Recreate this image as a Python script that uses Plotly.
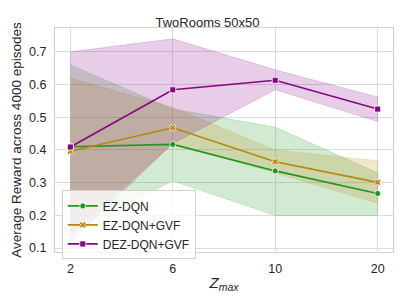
import plotly.graph_objects as go

z_labels = ["2", "6", "10", "20"]
x_idx = [0, 1, 2, 3]

ez_dqn = [0.41, 0.417, 0.336, 0.267]
ez_dqn_hi = [0.66, 0.525, 0.47, 0.33]
ez_dqn_lo = [0.15, 0.305, 0.20, 0.20]

ez_gvf = [0.396, 0.468, 0.364, 0.301]
ez_gvf_hi = [0.62, 0.53, 0.40, 0.367]
ez_gvf_lo = [0.14, 0.42, 0.33, 0.237]

dez_gvf = [0.409, 0.584, 0.613, 0.525]
dez_gvf_hi = [0.70, 0.74, 0.645, 0.562]
dez_gvf_lo = [0.12, 0.42, 0.584, 0.487]

series = [
    ("EZ-DQN", ez_dqn, ez_dqn_hi, ez_dqn_lo, "#1f961f", "rgba(31,150,31,0.2)", "circle"),
    ("EZ-DQN+GVF", ez_gvf, ez_gvf_hi, ez_gvf_lo, "#b8860b", "rgba(184,134,11,0.2)", "x"),
    ("DEZ-DQN+GVF", dez_gvf, dez_gvf_hi, dez_gvf_lo, "#850585", "rgba(133,5,133,0.2)", "square"),
]

fig = go.Figure()
for name, y, hi, lo, col, fcol, sym in series:
    fig.add_trace(go.Scatter(
        x=x_idx + x_idx[::-1], y=hi + lo[::-1], mode="lines", fill="toself",
        fillcolor=fcol, line=dict(color=fcol, width=0.8),
        showlegend=False, hoverinfo="skip"))
for name, y, hi, lo, col, fcol, sym in series:
    fig.add_trace(go.Scatter(
        x=x_idx, y=y, mode="lines+markers", name=name,
        line=dict(color=col, width=1.6),
        marker=dict(symbol=sym, size=6, color=col, line=dict(color="white", width=0.8))))

# page body has an 8px default margin, so the figure is sized/offset to compensate
fig.update_layout(
    width=399, height=297,
    margin=dict(l=47, r=14, t=20, b=53),
    paper_bgcolor="white", plot_bgcolor="white",
    font=dict(family="Liberation Sans, Arial, sans-serif", size=12, color="#262626"),
    title=dict(text="TwoRooms 50x50", x=0.5, xanchor="center", y=0.95, yanchor="middle",
               font=dict(size=13, color="#262626")),
    legend=dict(x=0.02, y=0.275, xanchor="left", yanchor="top",
                bgcolor="rgba(255,255,255,0.8)", bordercolor="#d0d0d0", borderwidth=1,
                font=dict(size=12), itemwidth=30, tracegroupgap=0),
    xaxis=dict(tickmode="array", tickvals=x_idx, ticktext=z_labels, range=[-0.15, 3.15],
               showgrid=True, gridcolor="#dcdcdc", gridwidth=1, zeroline=False,
               showline=True, linecolor="#d0d0d0", mirror=True,
               ticks="outside", ticklen=5, tickcolor="rgba(0,0,0,0)", automargin=False,
               tickfont=dict(size=12.5),
               title=dict(text="<i>Z<sub>max</sub></i>", font=dict(size=15), standoff=2)),
    yaxis=dict(range=[0.088, 0.773], tickvals=[0.1, 0.2, 0.3, 0.4, 0.5, 0.6, 0.7],
               ticktext=["0.1", "0.2", "0.3", "0.4", "0.5", "0.6", "0.7"],
               showgrid=True, gridcolor="#dcdcdc", gridwidth=1, zeroline=False,
               showline=True, linecolor="#d0d0d0", mirror=True,
               ticks="outside", ticklen=5, tickcolor="rgba(0,0,0,0)", automargin=False,
               tickfont=dict(size=12.5),
               title=dict(text="Average Reward across 4000 episodes", font=dict(size=13.5), standoff=4)),
)

fig.write_html("out.html")
